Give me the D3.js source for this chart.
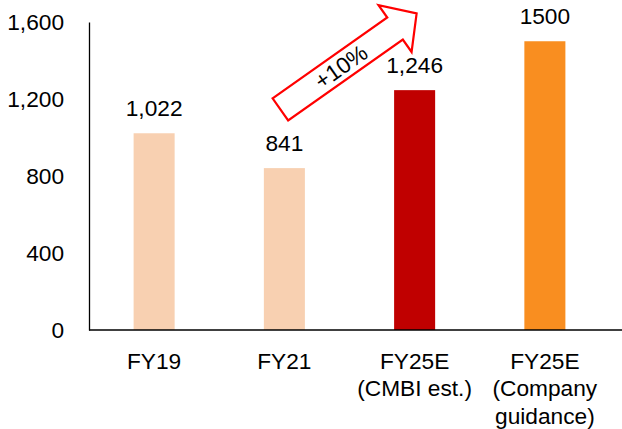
<!DOCTYPE html>
<html>
<head>
<meta charset="utf-8">
<script src="https://cdn.jsdelivr.net/npm/d3@7"></script>
<style>
  html, body { margin: 0; padding: 0; background: #fff; }
  svg { display: block; }
  text { font-family: "Liberation Sans", Arial, sans-serif; fill: #000; }
</style>
</head>
<body>
<svg id="chart" width="622" height="429"></svg>
<script>
// Categories (multi-line labels) and values
const categories = ["FY19", "FY21", "FY25E (CMBI est.)", "FY25E (Company guidance)"];
const categoryLines = [["FY19"], ["FY21"], ["FY25E", "(CMBI est.)"], ["FY25E", "(Company", "guidance)"]];
const values = [1022, 841, 1246, 1500];
const valueLabels = ["1,022", "841", "1,246", "1500"];
const barColors = ["#F8D0B1", "#F8D0B1", "#C00000", "#F98E20"];
const yTicks = [0, 400, 800, 1200, 1600];
const growthLabel = "+10%";

const svg = d3.select("#chart");
const margin = { left: 89, right: 12, top: 22, bottom: 99 };
const W = 622, H = 429;

const x = d3.scaleBand()
  .domain(categories)
  .range([margin.left, W - margin.right])
  .paddingInner(0.685)
  .paddingOuter(0.3425);

const y = d3.scaleLinear()
  .domain([0, 1600])
  .range([H - margin.bottom, margin.top]);

const fontSize = 22.7;

// Bars
svg.append("g").selectAll("rect")
  .data(categories)
  .join("rect")
  .attr("x", d => x(d))
  .attr("width", x.bandwidth())
  .attr("y", (d, i) => y(values[i]))
  .attr("height", (d, i) => y(0) - y(values[i]))
  .attr("fill", (d, i) => barColors[i]);

// Value labels
svg.append("g").selectAll("text")
  .data(categories)
  .join("text")
  .attr("x", d => x(d) + x.bandwidth() / 2)
  .attr("y", (d, i) => y(values[i]) - 17)
  .attr("text-anchor", "middle")
  .style("font-size", fontSize + "px")
  .text((d, i) => valueLabels[i]);

// Y axis (line only, no tick marks)
const yAxis = d3.axisLeft(y)
  .tickValues(yTicks)
  .tickSize(0)
  .tickPadding(25)
  .tickFormat(d3.format(","));
const gy = svg.append("g")
  .attr("transform", `translate(${margin.left},0)`)
  .call(yAxis);
gy.select(".domain").attr("stroke", "#000").attr("stroke-width", 1.3);
gy.selectAll(".tick text")
  .attr("dy", "0.35em")
  .style("font-size", fontSize + "px")
  .style("font-family", "'Liberation Sans', Arial, sans-serif")
  .attr("fill", "#000");

// X axis baseline
const xAxis = d3.axisBottom(x).tickSize(0).tickFormat("");
const gx = svg.append("g")
  .attr("transform", `translate(0,${y(0)})`)
  .call(xAxis);
gx.select(".domain")
  .attr("stroke", "#000")
  .attr("stroke-width", 1.3)
  .attr("d", `M${margin.left},0H${W}`);

// Category labels, multi-line
const catG = svg.append("g");
categories.forEach((c, i) => {
  const t = catG.append("text")
    .attr("x", x(c) + x.bandwidth() / 2)
    .attr("y", y(0) + 38.5)
    .attr("text-anchor", "middle")
    .style("font-size", fontSize + "px");
  categoryLines[i].forEach((line, k) => {
    t.append("tspan")
      .attr("x", x(c) + x.bandwidth() / 2)
      .attr("dy", k === 0 ? 0 : 27.5)
      .text(line);
  });
});

// Growth arrow from FY21 towards FY25E
const tail = [x(categories[1]) + x.bandwidth() / 2 - 4, y(1146)];
const tip = [x(categories[2]) + x.bandwidth() / 2 + 2, y(1645)];
const dx = tip[0] - tail[0], dy = tip[1] - tail[1];
const len = Math.hypot(dx, dy);
const angle = Math.atan2(dy, dx) * 180 / Math.PI;
const shaftHalf = 13.5, headHalf = 28.7, headLen = 26.4;
const sEnd = len - headLen;
const arrowPts = [
  [0, -shaftHalf], [sEnd, -shaftHalf], [sEnd, -headHalf], [len, 0],
  [sEnd, headHalf], [sEnd, shaftHalf], [0, shaftHalf]
];
const arrow = svg.append("g")
  .attr("transform", `translate(${tail[0]},${tail[1]}) rotate(${angle})`);
arrow.append("path")
  .attr("d", d3.line()(arrowPts) + "Z")
  .attr("fill", "#fff")
  .attr("stroke", "#FF0000")
  .attr("stroke-width", 2.2)
  .attr("stroke-linejoin", "miter");
arrow.append("text")
  .attr("x", sEnd / 2 + 4)
  .attr("y", 0)
  .attr("dy", "0.35em")
  .attr("text-anchor", "middle")
  .style("font-size", fontSize + "px")
  .text(growthLabel);
</script>
</body>
</html>
